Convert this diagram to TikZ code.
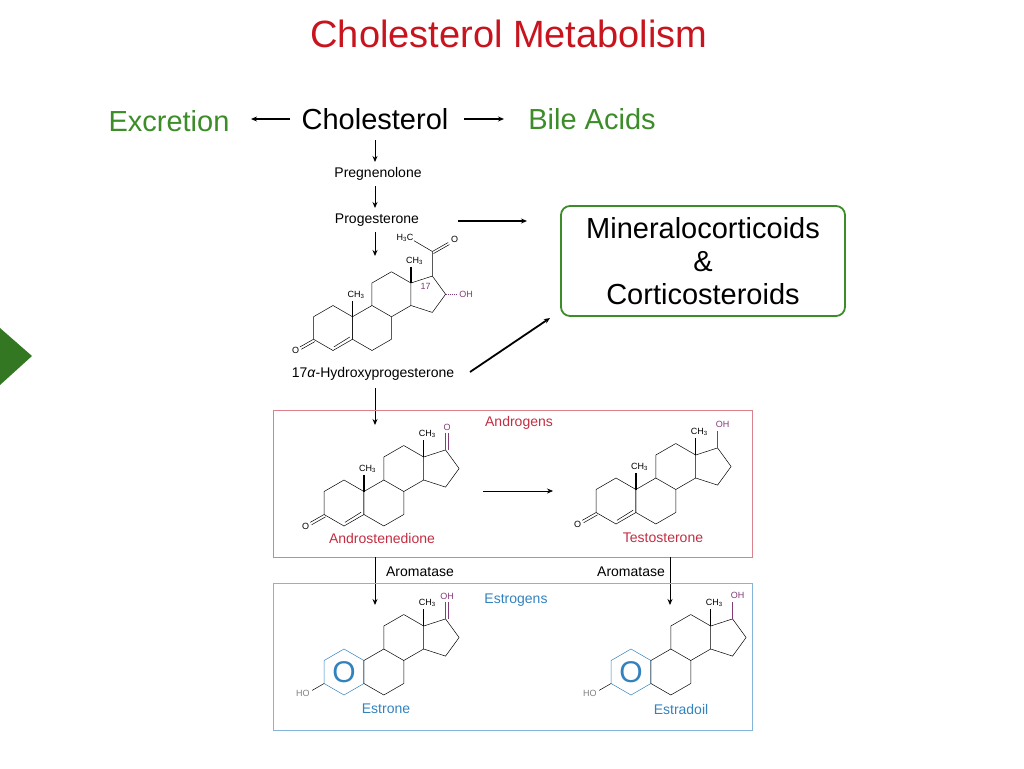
\documentclass[tikz,border=0pt]{standalone}
\usepackage{fontspec}
\setmainfont{Liberation Sans}
\usetikzlibrary{arrows.meta,calc}
\definecolor{tred}{RGB}{200,20,30}
\definecolor{tgreen}{RGB}{60,140,40}
\definecolor{lred}{RGB}{195,45,65}
\definecolor{lblue}{RGB}{50,130,190}
\definecolor{lpurp}{RGB}{130,60,120}
\def\s{21.65}
\newcommand\ringsBCD{%
 \draw (2*\s,-25)--(3*\s,-12.5)--(3*\s,12.5)--(2*\s,25)--(\s,12.5)--(\s,-12.5)--cycle;
 \draw (3*\s,-62.5)--(4*\s,-50)--(4*\s,-25)--(3*\s,-12.5) (2*\s,-25)--(2*\s,-50)--(3*\s,-62.5);
 \draw (4*\s,-50)--(110.4,-57.7)--(125.1,-37.5)--(110.4,-17.3)--(4*\s,-25);
 \draw[line width=1.6pt] (4*\s,-50)--(4*\s,-68);
 \node[lab] at (4*\s+4,-75) {CH\textsubscript{3}};}
\newcommand\ringAketo{%
 \draw (0,-25)--(\s,-12.5)--(\s,12.5)--(0,25)--(-\s,12.5)--(-\s,-12.5)--cycle;
 \draw ($(0,25)+(1,-4)$)--($(\s,12.5)+(-3,-2.5)$);
 \draw (-\s,12.5)--(-\s-15,21) ($(-\s,12.5)+(1.5,2.6)$)--($(-\s-15,21)+(1.5,2.6)$);
 \node[lab] at (-\s-20,25) {O};
 \draw[line width=1.6pt] (\s,-12.5)--(\s,-30);
 \node[lab] at (\s+4,-37) {CH\textsubscript{3}};}
\newcommand\ringAaro{%
 \draw[lblue] (0,-25)--(\s,-12.5)--(\s,12.5)--(0,25)--(-\s,12.5)--(-\s,-12.5)--cycle;
 \node[text=lblue,font=\fontsize{30}{30}\selectfont] at (0,0) {O};
 \draw (-\s,12.5)--(-\s-13,20);
 \node[lab,text=gray] at (-\s-23,23) {HO};}
\begin{document}
\begin{tikzpicture}[x=1pt,y=-1pt,
 lab/.style={inner sep=0pt,font=\fontsize{9}{9}\selectfont},
 arr/.style={-{Stealth[length=6pt,width=5pt]},line width=0.9pt},
 big/.style={font=\fontsize{29}{33}\selectfont},
 sm/.style={font=\fontsize{14}{15}\selectfont},
 mol/.style={line width=0.5pt}]
\useasboundingbox (0,0) rectangle (1024,768);
\node[text=tred,font=\fontsize{38}{40}\selectfont] (title) at (509,34) {Cholesterol Metabolism};
\node[big,text=tgreen] (exc) at (169,121) {Excretion};
\node[big] (chol) at (375,119) {Cholesterol};
\node[big,text=tgreen] (bile) at (592,119) {Bile Acids};
\coordinate (e1) at (290,119); \coordinate (e2) at (251,119);
\coordinate (b1) at (464,119); \coordinate (b2) at (504,119);
\draw[arr,line width=1.4pt] (e1)--(e2);
\draw[arr,line width=1.4pt] (b1)--(b2);
\node[sm] (preg) at (378,174) {Pregnenolone};
\node[sm] (prog) at (377,220) {Progesterone};
\draw[arr] (375,140)--(375,162);
\draw[arr] (375,186)--(375,208);
\draw[arr] (375,232)--(375,256);
\node[big,draw=tgreen,line width=1.8pt,rounded corners=9pt,align=center,minimum width=284pt,minimum height=110pt] (min) at (703,261) {Mineralocorticoids\\\&\\Corticosteroids};
\draw[arr,line width=1.8pt] (458,221)--(527,221);
\draw[arr,line width=1.8pt] (470,372)--(550,318);
\fill[tgreen!85!black] (0,328)--(32,356)--(0,385)--cycle;
% 17-OHP
\begin{scope}[shift={(333,328)},scale=0.9,mol]
 \ringAketo \ringsBCD
 \draw (110.4,-57.7)--(110.4,-85) (110.4,-85)--(90,-97);
 \draw (110.4,-85)--(128,-95) ($(110.4,-85)+(1.3,2.3)$)--($(128,-95)+(1.3,2.3)$);
 \node[lab] at (80,-100) {H\textsubscript{3}C};
 \node[lab] at (135,-98) {O};
 \node[lab,text=lpurp] at (103,-46) {17};
 \draw[lpurp,dashed,dash pattern=on 1pt off 1pt,line width=1.4pt] (125.1,-37.5)--(137,-37.5);
 \node[lab,text=lpurp] at (148,-37.5) {OH};
\end{scope}
\node[sm] (ohp) at (373,374) {17\textit{α}-Hydroxyprogesterone};
\draw[arr] (375,388)--(375,425);
% Androgens box
\draw[lred!60,line width=0.9pt] (273,410) rectangle (752,557);
\node[sm,text=lred] (andr) at (519,423) {Androgens};
\begin{scope}[shift={(344,503)},scale=0.92,mol]
 \ringAketo \ringsBCD
 \draw[lpurp] (110.4,-57.7)--(110.4,-76) ($(110.4,-57.7)+(3,0)$)--($(110.4,-76)+(3,0)$);
 \node[lab,text=lpurp] at (112,-82) {O};
\end{scope}
\begin{scope}[shift={(616,501)},scale=0.92,mol]
 \ringAketo \ringsBCD
 \draw[lpurp,line width=1.6pt] (110.4,-57.7)--(110.4,-76);
 \node[lab,text=lpurp] at (116,-83) {OH};
\end{scope}
\draw[arr,line width=0.6pt] (483,491)--(553,491);
\node[sm,text=lred] (ad) at (382,538) {Androstenedione};
\node[sm,text=lred] (te) at (663,538) {Testosterone};
\node[sm] (ar1) at (420,572) {Aromatase};
\node[sm] (ar2) at (631,572) {Aromatase};
\draw[arr] (375,557)--(375,605);
\draw[arr] (670,557)--(670,605);
% Estrogens box
\draw[lblue!60,line width=0.9pt] (273,583) rectangle (752,730);
\node[sm,text=lblue] (estr) at (516,600) {Estrogens};
\begin{scope}[shift={(344,672)},scale=0.92,mol]
 \ringAaro \ringsBCD
 \draw[lpurp] (110.4,-57.7)--(110.4,-76) ($(110.4,-57.7)+(3,0)$)--($(110.4,-76)+(3,0)$);
 \node[lab,text=lpurp] at (112,-82) {OH};
\end{scope}
\begin{scope}[shift={(631,672)},scale=0.92,mol]
 \ringAaro \ringsBCD
 \draw[lpurp,line width=1.6pt] (110.4,-57.7)--(110.4,-76);
 \node[lab,text=lpurp] at (116,-83) {OH};
\end{scope}
\node[sm,text=lblue] (eo) at (386,709) {Estrone};
\node[sm,text=lblue] (ed) at (681,709) {Estradoil};
\end{tikzpicture}
\end{document}
